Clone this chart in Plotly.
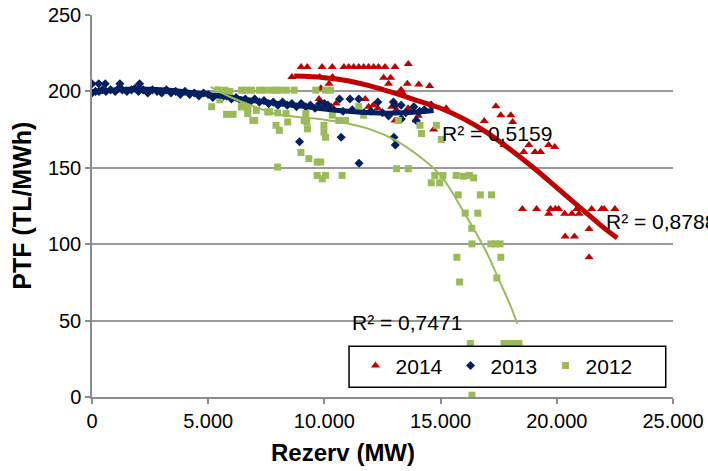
import plotly.graph_objects as go

# ---- data ----
x2014 = [9000, 9260, 9900, 10340, 10840, 11050, 11260, 11480, 11690, 11900, 12120, 12330, 12610, 13040, 13610,
         8600, 9800, 10350, 12550, 12850, 10200, 12760,
         9850, 13300, 13570, 14060, 14530,
         9770, 10000, 10300, 10500, 11760, 11900, 12100, 12300, 12900, 13100, 13330, 13600, 14040, 13040, 13950, 15240, 14700,
         16880, 17380, 17590, 18020, 18100, 17730, 18800, 18580, 19060, 19300, 19650, 19910,
         18520, 19130, 19730, 19940, 20080, 20860, 21500, 21930, 22040, 22500,
         19650, 20340, 20650, 20960, 21390, 20360, 20760, 21390]
y2014 = [216, 216, 216, 216, 216, 216, 216, 216, 216, 216, 216, 216, 216, 216, 218,
         209.5, 209.5, 209.5, 209, 209, 205, 205,
         202, 201, 205, 204.5, 203.6,
         195, 191, 190, 192, 195, 190, 191, 189, 190, 188, 199.6, 189, 184, 181, 181, 189, 175,
         180.6, 190.3, 184.4, 184.4, 180, 165, 165, 160.3, 160.3, 160.3, 165, 163.6,
         123, 123, 123, 123, 123, 123, 123, 123, 123, 123,
         120, 120, 120, 120, 110, 105, 105, 91.4]

x2013 = [0, 290, 570, 1200, 2050,
         0, 150, 300, 450, 600, 800, 1000, 1150, 1300, 1500, 1700, 1850, 2000, 2200, 2400, 2600, 2800,
         3000, 3200, 3400, 3600, 3800, 4000, 4200, 4400, 4600, 4800, 5000, 5200, 5400, 5600, 5800,
         6000, 6200, 6400, 6600, 6800, 7000, 7200, 7400, 7600, 7800, 8000, 8200, 8400, 8600, 8800,
         9000, 9200, 9400, 9600,
         9800, 10000, 10150, 10650, 11100, 11480, 10400, 10800, 11200, 11700, 12000, 12300, 12500,
         12760, 12970, 13040, 13300, 13310, 13500, 13850, 13950, 14100, 14300, 14590,
         8930, 10720, 11490, 12990, 13050]
y2013 = [205, 205, 205, 205, 205,
         199, 200, 200, 201, 200, 201, 200, 202, 201, 200, 201, 202, 200, 201, 199, 201, 200,
         199, 201, 199, 200, 198, 200, 198, 199, 197, 199, 198, 196, 198, 196, 197,
         195, 196, 194, 195, 193, 195, 193, 194, 192, 193, 191, 193, 191, 192, 190,
         192, 190, 191, 189,
         192, 192, 191, 195, 195, 195, 188, 187, 188, 186, 187, 193, 186,
         184, 193, 191, 191, 182, 186, 190, 181, 187, 188, 191,
         167, 170, 153, 170, 165]

x2012 = [5150, 5420, 5500, 5720, 5790, 5930, 6070, 6430, 6430, 6500, 6600, 6710, 6860, 6920, 6700,
         7000, 7070, 7200, 7400, 7560, 7640, 7700, 7900, 7920, 7990, 7990, 8060, 8060, 8360, 8350, 8420,
         8700, 8990, 9130, 9200, 9240, 9270, 9330, 9630, 9690, 9690, 9840, 9910, 9980, 9980, 10050,
         10050, 10050, 10260, 10340, 10620, 10910, 10760, 11480, 11690,
         13110, 13610, 13180, 14110, 14180, 14820, 15030,
         14750, 15100, 14600, 14960, 15670, 15980, 16240, 16420, 15760, 16710, 17190,
         16060, 16600, 16340, 16350, 17160, 17360, 17560, 15700, 17590, 17420, 15820,
         16280, 17730, 17950, 18170, 18370, 16350]
y2012 = [190, 201, 194.5, 200.8, 185, 200, 185, 200.8, 189.8, 191, 200.8, 188.8, 200.8, 181, 185.5,
         181, 187.6, 200.8, 200.8, 186.6, 186.6, 200.8, 200.8, 177.8, 186, 150.5, 174.5, 200.8, 200.8, 185.5, 180,
         200.8, 160, 181, 185.5, 180, 175.5, 156, 200.8, 153.7, 145, 153.8, 142.8, 177.8, 173.4, 200.8,
         170, 145, 200.8, 184.4, 181, 181, 145, 190, 184.4,
         149.4, 149.4, 181, 177.8, 172.4, 177.8, 168.5,
         145, 145, 140.2, 140.2, 145, 144.5, 145, 143.4, 132.3, 132.3, 132.3,
         120.3, 120.3, 110.4, 100.2, 100.2, 100.2, 100.2, 91.4, 91.4, 77.9, 75.3,
         35, 35, 35, 35, 35, 1.2]

# trend lines
trend2014_x = [8700, 10000, 11000, 12000, 13000, 14000, 15000, 16000, 17000, 18000, 19000, 20000, 21000, 22000, 22600]
trend2014_y = [210, 209, 207, 203.5, 199, 194, 189, 182, 173, 162, 150, 137, 124, 111, 104]
trend2013_x = [0, 1000, 2000, 3000, 4000, 5000, 6000, 7000, 8000, 9000, 10000, 11000, 12000, 13000, 14000, 14700]
trend2013_y = [199.5, 201, 201.5, 201, 199.8, 198, 196, 193.8, 192, 190.5, 188.5, 187, 186, 185.8, 186.5, 187.5]
trend2012_x = [5100, 6000, 7000, 8000, 9000, 10000, 11000, 12000, 13000, 14000, 15000, 16000, 16500, 17000, 17500, 18000, 18300]
trend2012_y = [203, 196, 190, 185, 183, 181.5, 179, 175, 168.5, 158.5, 145, 121, 108, 94, 77, 60, 48]

r2_labels = ["R² = 0,5159", "R² = 0,8788", "R² = 0,7471"]
r2_x = [17420, 22020, 11100]
r2_y = [172.7, 114.8, 48.9]
r2_anchor = ["center", "left", "left"]

x_title = "Rezerv (MW)"
y_title = "PTF (TL/MWh)"

RED, NAVY, GREEN = "#C00000", "#002060", "#9BBB59"
FONT = "Liberation Sans, Arial, sans-serif"

fig = go.Figure()
fig.add_trace(go.Scatter(x=x2014, y=y2014, mode="markers", name="2014",
                         marker=dict(symbol="triangle-up", size=8, color=RED)))
fig.add_trace(go.Scatter(x=x2013, y=y2013, mode="markers", name="2013",
                         marker=dict(symbol="diamond", size=7, color=NAVY)))
fig.add_trace(go.Scatter(x=x2012, y=y2012, mode="markers", name="2012",
                         marker=dict(symbol="square", size=7, color=GREEN)))
fig.add_trace(go.Scatter(x=trend2014_x, y=trend2014_y, mode="lines", showlegend=False,
                         line=dict(color=RED, width=5, shape="spline")))
fig.add_trace(go.Scatter(x=trend2013_x, y=trend2013_y, mode="lines", showlegend=False,
                         line=dict(color=NAVY, width=5, shape="spline")))
fig.add_trace(go.Scatter(x=trend2012_x, y=trend2012_y, mode="lines", showlegend=False,
                         line=dict(color=GREEN, width=2, shape="spline")))

for t, xx, yy, anc in zip(r2_labels, r2_x, r2_y, r2_anchor):
    fig.add_annotation(x=xx, y=yy, text=t, showarrow=False, xanchor=anc, yanchor="middle",
                       font=dict(size=21, color="#000", family=FONT))

# axis titles
fig.add_annotation(xref="paper", yref="paper", x=0.432, y=-0.145, text="<b>" + x_title + "</b>",
                   showarrow=False, xanchor="center", yanchor="middle",
                   font=dict(size=24, color="#000", family=FONT))
fig.add_annotation(xref="paper", yref="paper", x=-0.1198, y=0.502, text="<b>" + y_title + "</b>",
                   showarrow=False, xanchor="center", yanchor="middle", textangle=-90,
                   font=dict(size=25, color="#000", family=FONT))

# legend frame
fig.add_shape(type="rect", xref="paper", yref="paper", x0=0.4424, x1=0.9875, y0=0.0254, y1=0.1327,
              line=dict(color="#000", width=1.5), fillcolor="white", layer="above")

fig.update_layout(
    width=708, height=471,
    margin=dict(l=92, r=35, t=15, b=74),
    paper_bgcolor="white", plot_bgcolor="white",
    separators=",.",
    font=dict(family=FONT, size=20, color="#000"),
    showlegend=True,
    legend=dict(orientation="h", x=0.4536, y=0.1354, xanchor="left", yanchor="top",
                borderwidth=0, bgcolor="rgba(0,0,0,0)", entrywidth=50,
                font=dict(size=21, color="#000"), itemsizing="trace"),
    xaxis=dict(range=[0, 25000], dtick=5000, tickformat=",d", showgrid=False, zeroline=False,
               showline=True, linecolor="#8c8c8c", linewidth=1.5, automargin=False,
               ticks="outside", ticklen=5, tickcolor="#8c8c8c", tickwidth=1.5,
               tickfont=dict(size=20, color="#000")),
    yaxis=dict(range=[0, 250], dtick=50, showgrid=True, gridcolor="#9a9a9a", gridwidth=1.5,
               zeroline=False, showline=True, linecolor="#8c8c8c", linewidth=1.5, automargin=False,
               ticks="outside", ticklen=5, tickcolor="#8c8c8c", tickwidth=1.5,
               tickfont=dict(size=20, color="#000")),
)

fig.write_html("out.html", config={"displayModeBar": False},
               post_script="document.body.style.margin='0';document.body.style.overflow='hidden';")
